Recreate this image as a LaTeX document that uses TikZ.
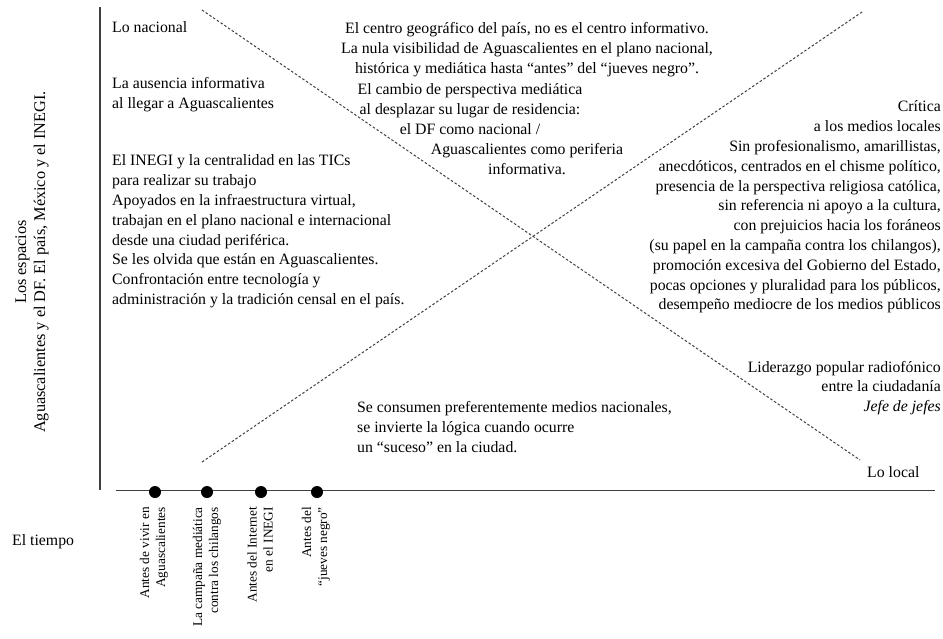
\documentclass[tikz,border=0pt]{standalone}
\usepackage{fontspec}
\setmainfont{Liberation Serif}
\begin{document}
\begin{tikzpicture}[x=1pt,y=-1pt,
  txt/.style={inner sep=0pt,font=\fontsize{15.8}{19.8}\selectfont},
  small/.style={inner sep=0pt,font=\fontsize{13.3}{16}\selectfont},
  axis/.style={line width=1.1pt,draw=black!75},
  diag/.style={line width=1pt,draw=black!75,dash pattern=on 2.5pt off 2pt},
  dot/.style={circle,fill=black,inner sep=0pt,minimum size=12pt}]
\useasboundingbox (0,0) rectangle (943,638);
% axes
\coordinate (vt) at (100,7);
\coordinate (vb) at (100,490);
\coordinate (hl) at (116,490.5);
\coordinate (hr) at (935,490.5);
\draw[axis] (vt) -- (vb);
\draw[axis] (hl) -- (hr);
% dashed diagonals
\coordinate (d1s) at (202,10);
\coordinate (d1e) at (860,460);
\coordinate (d2s) at (202,462);
\coordinate (d2e) at (862,12);
\draw[diag] (d1s) -- (d1e);
\draw[diag] (d2s) -- (d2e);
% dots
\node[dot] (t1) at (155,492) {};
\node[dot] (t2) at (207,492) {};
\node[dot] (t3) at (261,492) {};
\node[dot] (t4) at (317,492) {};
% time labels
\node[small,rotate=90,anchor=east,align=right] (l1) at (154,507) {Antes de vivir en\\Aguascalientes};
\node[small,rotate=90,anchor=east,align=right] (l2) at (207,507) {La campaña mediática\\contra los chilangos};
\node[small,rotate=90,anchor=east,align=right] (l3) at (260,507) {Antes del Internet\\en el INEGI};
\node[small,rotate=90,anchor=east,align=right] (l4) at (316,507) {Antes del\\“jueves negro”};
% axis labels
\node[inner sep=0pt,font=\fontsize{16.3}{19}\selectfont,rotate=90,align=center] (ylab) at (32,262) {Los espacios\\Aguascalientes y el DF. El país, México y el INEGI.};
\node[txt,anchor=west] (xlab) at (12,542) {El tiempo};
% left texts
\node[txt,anchor=west] (nac) at (112,27) {Lo nacional};
\node[txt,anchor=west,align=left] (aus) at (112,94.5) {La ausencia informativa\\al llegar a Aguascalientes};
\node[txt,anchor=west,align=left] (inegi) at (112,231.5) {El INEGI y la centralidad en las TICs\\para realizar su trabajo\\Apoyados en la infraestructura virtual,\\trabajan en el plano nacional e internacional\\desde una ciudad periférica.\\Se les olvida que están en Aguascalientes.\\Confrontación entre tecnología y\\administración y la tradición censal en el país.};
% top texts
\node[txt,align=center] (top1) at (527,49.8) {El centro geográfico del país, no es el centro informativo.\\La nula visibilidad de Aguascalientes en el plano nacional,\\histórica y mediática hasta “antes” del “jueves negro”.};
\node[txt,align=center] (top2) at (470,109.2) {El cambio de perspectiva mediática\\al desplazar su lugar de residencia:\\el DF como nacional /};
\node[txt,align=center] (top3) at (527,158.7) {Aguascalientes como periferia\\informativa.};
% right texts
\node[txt,anchor=east,align=right] (crit) at (941,207) {Crítica\\a los medios locales\\Sin profesionalismo, amarillistas,\\anecdóticos, centrados en el chisme político,\\presencia de la perspectiva religiosa católica,\\sin referencia ni apoyo a la cultura,\\con prejuicios hacia los foráneos\\(su papel en la campaña contra los chilangos),\\promoción excesiva del Gobierno del Estado,\\pocas opciones y pluralidad para los públicos,\\desempeño mediocre de los medios públicos};
\node[txt,anchor=east,align=right] (lid) at (941,388) {Liderazgo popular radiofónico\\entre la ciudadanía\\\textit{Jefe de jefes}};
% bottom texts
\node[txt,anchor=west,align=left] (cons) at (357,427) {Se consumen preferentemente medios nacionales,\\se invierte la lógica cuando ocurre\\un “suceso” en la ciudad.};
\node[txt,anchor=west] (loc) at (867,472) {Lo local};
\end{tikzpicture}
\end{document}
